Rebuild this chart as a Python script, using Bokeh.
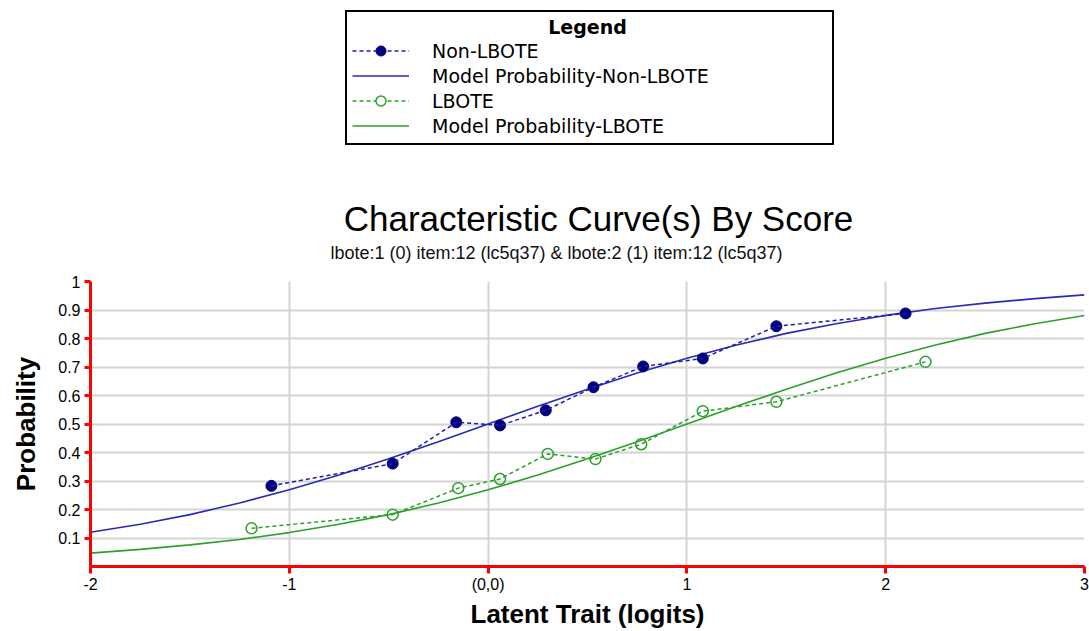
from bokeh.plotting import figure
from bokeh.layouts import column
from bokeh.models import Range1d, Label, Legend, LegendItem, FixedTicker
from bokeh.embed import file_html
from bokeh.resources import INLINE

# ---- data ----
x_non = [-1.09, -0.48, -0.16, 0.06, 0.29, 0.53, 0.78, 1.08, 1.45, 2.10]
p_non = [0.283, 0.361, 0.506, 0.495, 0.548, 0.629, 0.702, 0.730, 0.843, 0.888]
x_lbote = [-1.19, -0.48, -0.15, 0.06, 0.30, 0.54, 0.77, 1.08, 1.45, 2.20]
p_lbote = [0.134, 0.182, 0.275, 0.307, 0.395, 0.377, 0.429, 0.545, 0.578, 0.718]

theta = [-2.0, -1.75, -1.5, -1.25, -1.0, -0.75, -0.5, -0.25, 0.0, 0.25, 0.5,
         0.75, 1.0, 1.25, 1.5, 1.75, 2.0, 2.25, 2.5, 2.75, 3.0]
model_non = [0.12, 0.148, 0.182, 0.223, 0.269, 0.321, 0.378, 0.438, 0.50, 0.562, 0.622,
             0.679, 0.731, 0.777, 0.818, 0.852, 0.881, 0.905, 0.924, 0.940, 0.953]
model_lbote = [0.047, 0.060, 0.076, 0.095, 0.119, 0.148, 0.182, 0.223, 0.269, 0.321, 0.378,
               0.438, 0.50, 0.562, 0.622, 0.679, 0.731, 0.777, 0.818, 0.852, 0.881]

x_ticks = [-2, -1, 0, 1, 2, 3]
x_tick_labels = {-2: "-2", -1: "-1", 0: "(0,0)", 1: "1", 2: "2", 3: "3"}
y_ticks = [0.1, 0.2, 0.3, 0.4, 0.5, 0.6, 0.7, 0.8, 0.9, 1.0]
y_tick_labels = {1: "1"}

legend_labels = ["Non-LBOTE", "Model Probability-Non-LBOTE", "LBOTE", "Model Probability-LBOTE"]
legend_title = "Legend"
title_text = "Characteristic Curve(s) By Score"
subtitle_text = "lbote:1 (0) item:12 (lc5q37) & lbote:2 (1) item:12 (lc5q37)"

NAVY = "#000080"
BLUE_DASH = "#1f1fa6"
BLUE_LINE = "#2a2ab4"
GREEN = "#2ca02c"

W = 1089
HEADER_H = 263
LEFT, RIGHT = 90, 5

# ---------------- header (legend + titles), pixel-like coordinates ----------------
h = figure(width=W, height=HEADER_H, output_backend="svg", toolbar_location=None,
           x_range=Range1d(LEFT, W - RIGHT), y_range=Range1d(0, HEADER_H),
           min_border_left=LEFT, min_border_right=RIGHT, min_border_top=0, min_border_bottom=0,
           x_axis_type=None, y_axis_type=None)
h.outline_line_color = None
h.xgrid.visible = False
h.ygrid.visible = False

# same series, styled as in the chart; they fall outside this panel's ranges and only feed the legend
hl1 = h.line(x_non, p_non, line_color=BLUE_DASH, line_width=1.5, line_dash="4 3")
hs1 = h.scatter(x_non, p_non, size=11, fill_color=NAVY, line_color=NAVY)
hm1 = h.line(theta, model_non, line_color=BLUE_LINE, line_width=1.6)
hl2 = h.line(x_lbote, p_lbote, line_color=GREEN, line_width=1.5, line_dash="4 3")
hs2 = h.scatter(x_lbote, p_lbote, size=11, fill_color="white", line_color=GREEN, line_width=1.5)
hm2 = h.line(theta, model_lbote, line_color=GREEN, line_width=1.6)

h.add_layout(Label(x=587, y=HEADER_H - 26, text=legend_title,
                   text_font="DejaVu Sans", text_font_style="bold", text_font_size="19px",
                   text_align="center", text_baseline="middle", text_color="black"))

legend = Legend(items=[
    LegendItem(label=legend_labels[0], renderers=[hl1, hs1]),
    LegendItem(label=legend_labels[1], renderers=[hm1]),
    LegendItem(label=legend_labels[2], renderers=[hl2, hs2]),
    LegendItem(label=legend_labels[3], renderers=[hm2]),
], location=(345 - LEFT, HEADER_H - 145), title=" ", title_text_font_size="14px", title_standoff=5,
    label_text_font="DejaVu Sans", label_text_font_size="19px", label_text_color="black",
    glyph_width=57, glyph_height=25, label_height=20, label_width=395, spacing=0,
    padding=5, margin=0, label_standoff=23,
    border_line_color="black", border_line_width=2, border_line_alpha=1.0,
    background_fill_alpha=0.0)
h.add_layout(legend, "center")
h.add_layout(Label(x=598, y=HEADER_H - 218, text=title_text,
                   text_font="Liberation Sans", text_font_size="35px", text_align="center",
                   text_baseline="middle", text_color="black"))
h.add_layout(Label(x=556, y=HEADER_H - 252, text=subtitle_text,
                   text_font="Liberation Sans", text_font_size="18px", text_align="center",
                   text_baseline="middle", text_color="#111111"))

# ---------------- main chart ----------------
p = figure(width=W, height=631 - HEADER_H, output_backend="svg", toolbar_location=None,
           x_range=Range1d(-2, 3), y_range=Range1d(0, 1),
           min_border_left=LEFT, min_border_right=RIGHT, min_border_top=18, min_border_bottom=60)
p.outline_line_color = None
p.background_fill_color = "white"

m1 = p.line(theta, model_non, line_color=BLUE_LINE, line_width=1.6)
m2 = p.line(theta, model_lbote, line_color=GREEN, line_width=1.6)
s1 = p.scatter(x_non, p_non, size=11, fill_color=NAVY, line_color=NAVY)
l1 = p.line(x_non, p_non, line_color=BLUE_DASH, line_width=1.5, line_dash="4 3")
s2 = p.scatter(x_lbote, p_lbote, size=11, fill_color=None, line_color=GREEN, line_width=1.5)
l2 = p.line(x_lbote, p_lbote, line_color=GREEN, line_width=1.5, line_dash="4 3")

for ax in (p.xaxis[0], p.yaxis[0]):
    ax.axis_line_color = "red"
    ax.axis_line_width = 3
    ax.major_tick_line_color = "red"
    ax.major_tick_line_width = 3
    ax.major_tick_in = 0
    ax.minor_tick_line_color = None
    ax.major_label_text_font = "Liberation Sans"
    ax.major_label_text_font_size = "16px"
    ax.major_label_text_color = "black"
    ax.axis_label_text_font = "Liberation Sans"
    ax.axis_label_text_font_style = "bold"
    ax.axis_label_text_font_size = "26px"
    ax.axis_label_text_color = "black"

p.xaxis.ticker = FixedTicker(ticks=x_ticks)
p.xaxis.major_label_overrides = x_tick_labels
p.xaxis.major_tick_out = 7
p.xaxis.major_label_standoff = 2
p.xaxis.axis_label = "Latent Trait (logits)"
p.xaxis.axis_label_standoff = 3

p.yaxis.ticker = FixedTicker(ticks=y_ticks)
p.yaxis.major_label_overrides = y_tick_labels
p.yaxis.major_tick_out = 6
p.yaxis.major_label_standoff = 4
p.yaxis.axis_label = "Probability"
p.yaxis.axis_label_standoff = 14

p.xgrid.grid_line_color = "#d4d4d4"
p.ygrid.grid_line_color = "#d4d4d4"
p.xgrid.grid_line_width = 2
p.ygrid.grid_line_width = 2

layout = column(h, p, spacing=0)
open("out.html", "w").write(file_html(layout, INLINE))
